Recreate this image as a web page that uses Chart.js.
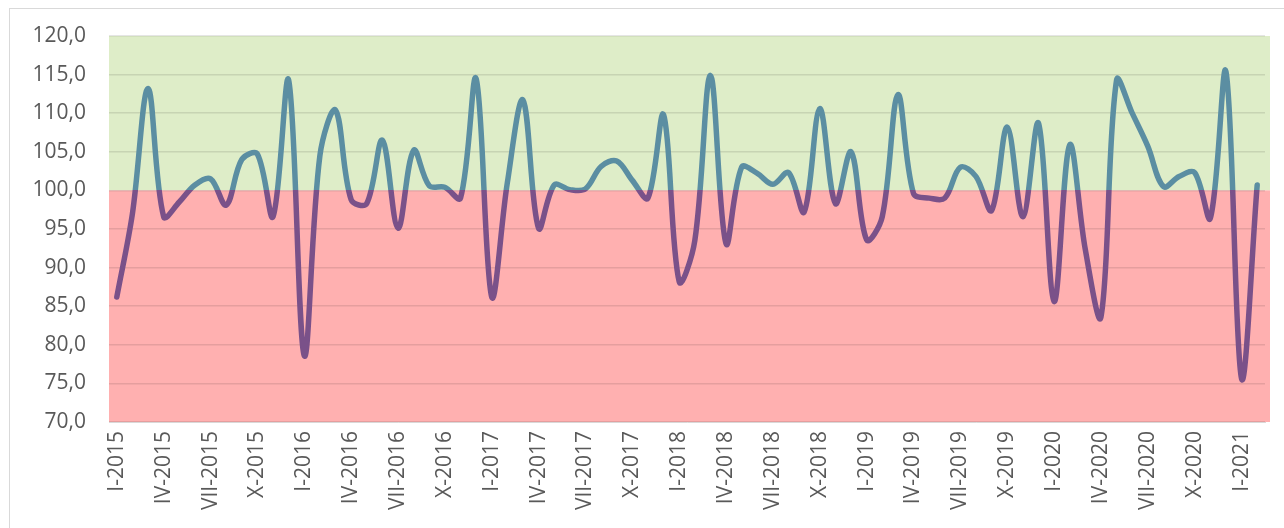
<!DOCTYPE html>
<html lang="en">
<head>
  <meta charset="UTF-8">
  <title>Index chart 2015-2021</title>
  <script src="https://cdn.jsdelivr.net/npm/chart.js"></script>
  <style>
    body { margin: 0; background: #fff; overflow: hidden; }
    #frame { position: absolute; left: 9px; top: 8px; width: 1290px; height: 540px; border: 1px solid #d9d9d9; }
    #wrap { position: absolute; left: 0; top: 0; width: 1284px; height: 528px; }
  </style>
</head>
<body>

<div id="frame"></div>
<div id="wrap">
  <canvas id="chart" width="1284" height="528"></canvas>
</div>

<script>
// months as roman numerals, years covered
const months = ['I','II','III','IV','V','VI','VII','VIII','IX','X','XI','XII'];
const years = [2015, 2016, 2017, 2018, 2019, 2020, 2021];
const monthCount = 74; // I-2015 .. II-2021

// monthly index values (previous year = 100)
const values = [
  86.2, 97.0, 113.2, 96.6, 98.5, 100.7, 101.5, 98.1, 104.0, 104.7, 96.6, 114.3,
  78.6, 104.5, 110.4, 98.8, 98.3, 106.5, 95.1, 105.2, 100.6, 100.4, 99.0, 114.5,
  86.2, 101.0, 111.7, 95.1, 100.7, 100.1, 100.2, 103.1, 103.8, 101.3, 99.0, 109.8,
  88.2, 93.5, 114.9, 93.1, 103.0, 102.2, 100.8, 102.3, 97.2, 110.6, 98.3, 105.0,
  93.6, 96.6, 112.4, 99.6, 99.0, 99.0, 103.0, 101.8, 97.4, 108.2, 96.6, 108.7,
  85.6, 105.9, 92.3, 83.6, 114.3, 110.0, 105.7, 100.5, 101.8, 102.3, 96.4, 115.4,
  75.6, 100.7
];

const threshold = 100;
const yMin = 70, yMax = 120, yStep = 5;

const labels = [];
for (let i = 0; i < monthCount; i++) {
  labels.push(months[i % 12] + '-' + years[Math.floor(i / 12)]);
}

const upColor = '#5b8ea2';
const downColor = '#7a5189';

// green band above the threshold, red band below it
const bandsPlugin = {
  id: 'bands',
  beforeDraw(chart) {
    const { ctx, chartArea, scales } = chart;
    const y100 = scales.y.getPixelForValue(threshold);
    ctx.save();
    ctx.fillStyle = '#deedc8';
    ctx.fillRect(chartArea.left, chartArea.top, chartArea.right - chartArea.left + 5, y100 - chartArea.top);
    ctx.fillStyle = '#ffb0b0';
    ctx.fillRect(chartArea.left, y100, chartArea.right - chartArea.left + 5, chartArea.bottom - y100);
    ctx.restore();
  }
};

function lineGradient(context) {
  const chart = context.chart;
  const { chartArea, scales } = chart;
  if (!chartArea) return upColor;
  const y100 = scales.y.getPixelForValue(threshold);
  const s = Math.min(1, Math.max(0, (y100 - chartArea.top) / (chartArea.bottom - chartArea.top)));
  const g = chart.ctx.createLinearGradient(0, chartArea.top, 0, chartArea.bottom);
  g.addColorStop(0, upColor);
  g.addColorStop(s, upColor);
  g.addColorStop(s, downColor);
  g.addColorStop(1, downColor);
  return g;
}

const font = { family: "'Open Sans', sans-serif", size: 21 };

new Chart(document.getElementById('chart'), {
  type: 'line',
  data: {
    labels: labels,
    datasets: [{
      data: values,
      borderColor: lineGradient,
      borderWidth: 5.5,
      borderCapStyle: 'round',
      borderJoinStyle: 'round',
      pointRadius: 0,
      tension: 0.35,
      fill: false
    }]
  },
  options: {
    responsive: false,
    animation: false,
    layout: { padding: { top: 36, right: 19, left: 0, bottom: 0 } },
    plugins: { legend: { display: false }, tooltip: { enabled: false } },
    scales: {
      x: {
        offset: true,
        grid: { display: true, drawOnChartArea: false, drawTicks: false },
        border: { display: true, color: '#d9d9d9', width: 1 },
        ticks: {
          autoSkip: false,
          maxRotation: 90,
          minRotation: 90,
          padding: 9,
          color: '#595959',
          font: font,
          callback: function (v, i) { return i % 3 === 0 ? labels[i] : ''; }
        },
        afterFit(scale) {
          scale.height = 106;
          scale.paddingLeft = 0;
          scale.paddingRight = 0;
        }
      },
      y: {
        min: yMin,
        max: yMax,
        grid: { color: 'rgba(0,0,0,0.1)', lineWidth: 1.5, drawTicks: false },
        border: { display: false },
        ticks: {
          stepSize: yStep,
          padding: 23,
          color: '#595959',
          font: font,
          callback: v => v.toFixed(1).replace('.', ',')
        },
        afterFit(scale) { scale.width = 109; }
      }
    }
  },
  plugins: [bandsPlugin]
});
</script>

</body>
</html>
